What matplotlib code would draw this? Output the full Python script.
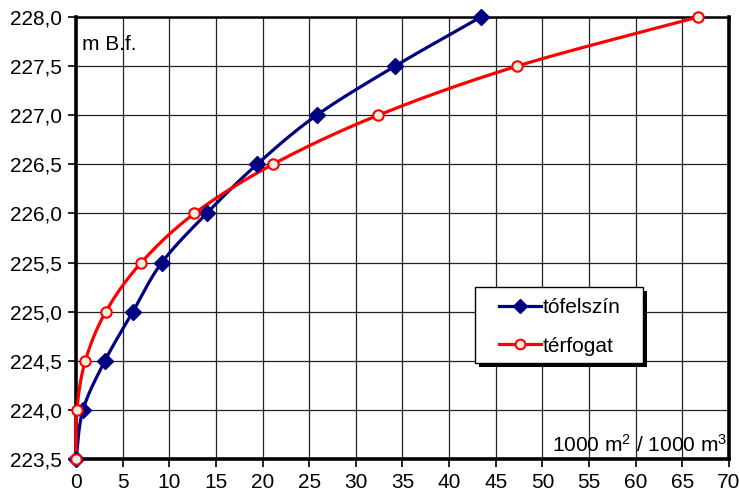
import numpy as np
import matplotlib
matplotlib.use("Agg")
import matplotlib.pyplot as plt
from matplotlib.ticker import FuncFormatter, MultipleLocator
from matplotlib.patches import Rectangle

levels = [223.5, 224.0, 224.5, 225.0, 225.5, 226.0, 226.5, 227.0, 227.5, 228.0]
tofelszin = [0.0, 0.75, 3.1, 6.1, 9.2, 14.0, 19.4, 25.8, 34.2, 43.4]
terfogat = [0.0, 0.1, 1.0, 3.2, 7.0, 12.7, 21.1, 32.4, 47.3, 66.7]
series_names = ['tófelszín', 'térfogat']


def smooth(x, y, n=30):
    # Catmull-Rom curve through the data points (rendering like Excel's smoothed line)
    x = np.asarray(x, float); y = np.asarray(y, float)
    P = np.column_stack([x, y])
    P = np.vstack([P[0] - (P[1] - P[0]), P, P[-1] + (P[-1] - P[-2])])
    out = []
    t = np.linspace(0, 1, n)[:, None]
    for i in range(1, len(P) - 2):
        p0, p1, p2, p3 = P[i - 1], P[i], P[i + 1], P[i + 2]
        seg = 0.5 * ((2 * p1) + (-p0 + p2) * t + (2 * p0 - 5 * p1 + 4 * p2 - p3) * t ** 2
                     + (-p0 + 3 * p1 - 3 * p2 + p3) * t ** 3)
        out.append(seg)
    out = np.vstack(out)
    return out[:, 0], out[:, 1]


plt.rcParams['font.family'] = ['Liberation Sans', 'DejaVu Sans']
plt.rcParams['mathtext.fontset'] = 'custom'
plt.rcParams['mathtext.rm'] = 'Liberation Sans'
plt.rcParams['mathtext.it'] = 'Liberation Sans:italic'
plt.rcParams['mathtext.bf'] = 'Liberation Sans:bold'
W, H = 739, 493
fig = plt.figure(figsize=(W / 100, H / 100), dpi=100)
ax = fig.add_axes([76 / W, 1 - 459 / H, (729 - 76) / W, (459 - 17) / H])

blue = '#000080'
red = '#ff0000'

sx, sy = smooth(tofelszin, levels)
ax.plot(sx, sy, color=blue, lw=2.3, zorder=3, clip_on=False)
ax.plot(tofelszin, levels, linestyle='none', marker='D', ms=8, mfc=blue, mec=blue, zorder=4, clip_on=False)
sx, sy = smooth(terfogat, levels)
ax.plot(sx, sy, color=red, lw=2.3, zorder=3, clip_on=False)
ax.plot(terfogat, levels, linestyle='none', marker='o', ms=7.5, mfc='#eeeee4', mec=red, mew=1.5, zorder=5, clip_on=False)

# legend proxies
hb, = ax.plot([], [], color=blue, lw=2.3, marker='D', ms=7, mfc=blue, mec=blue)
hr, = ax.plot([], [], color=red, lw=2.3, marker='o', ms=7, mfc='#eeeee4', mec=red, mew=1.5)

ax.set_xlim(0, 70)
ax.set_ylim(223.5, 228.0)
ax.xaxis.set_major_locator(MultipleLocator(5))
ax.yaxis.set_major_locator(MultipleLocator(0.5))
ax.yaxis.set_major_formatter(FuncFormatter(lambda v, p: f"{v:.1f}".replace('.', ',')))
ax.xaxis.set_major_formatter(FuncFormatter(lambda v, p: f"{v:.0f}"))
ax.grid(True, color='#222222', lw=0.9)
ax.set_axisbelow(True)
ax.tick_params(labelsize=15, length=6, width=1.2, colors='black', pad=4)
for s in ['left', 'bottom', 'right']:
    ax.spines[s].set_linewidth(2.6)
ax.spines['top'].set_linewidth(1.8)

ax.text(0.009, 0.96, 'm B.f.', transform=ax.transAxes, fontsize=15, ha='left', va='top')
ax.text(0.997, 0.008, r'1000 m$^{\mathrm{2}}$ / 1000 m$^{\mathrm{3}}$', transform=ax.transAxes,
        fontsize=15, ha='right', va='bottom')

# legend frame with shadow (figure pixel coordinates, origin bottom-left)
x0, y0, x1, y1 = 475, 287, 643, 363
shadow = Rectangle((x0 + 4, H - y1 - 4), x1 - x0, y1 - y0, transform=None,
                   facecolor='black', edgecolor='none', zorder=6)
frame = Rectangle((x0, H - y1), x1 - x0, y1 - y0, transform=None,
                  facecolor='white', edgecolor='black', lw=1.0, zorder=7)
fig.add_artist(shadow)
fig.add_artist(frame)

leg = fig.legend([hb, hr], series_names, loc='upper left',
                 bbox_to_anchor=(499 / W, 1 - 298 / H),
                 fontsize=15, frameon=False, handlelength=2.0, handletextpad=0.1,
                 borderpad=0, labelspacing=0.95, borderaxespad=0)
leg.set_zorder(8)

fig.savefig('out.png', dpi=100)
